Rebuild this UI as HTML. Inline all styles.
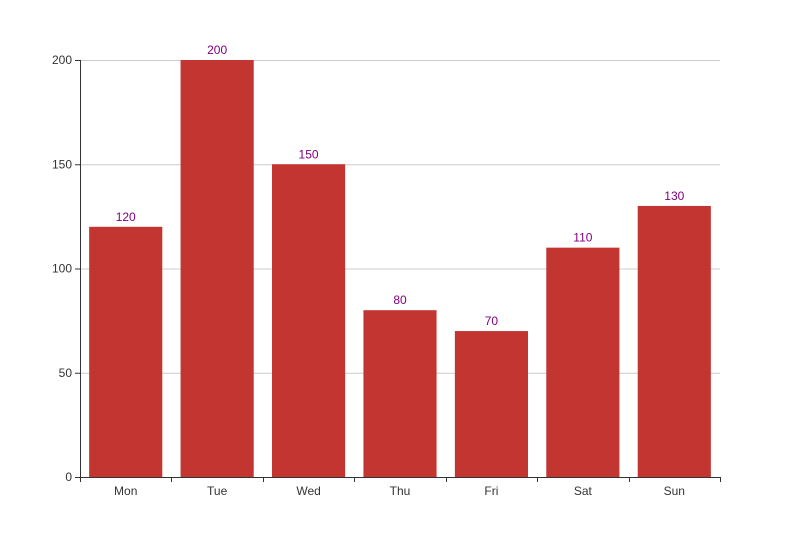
<!DOCTYPE html>
<html><head><meta charset="utf-8"><style>
body{margin:0;background:#fff;}
svg{display:block;font-family:"Liberation Sans",sans-serif;}
</style></head><body>
<svg id="chart" width="800" height="537" viewBox="0 0 800 537"></svg>
<script>
const categories=["Mon","Tue","Wed","Thu","Fri","Sat","Sun"];
const values=[120,200,150,80,70,110,130];
const yTicks=[0,50,100,150,200];
const NS="http://www.w3.org/2000/svg";
const svg=document.getElementById('chart');
const L=80,R=720,T=60,B=477,yMax=200;
const band=(R-L)/categories.length;
const x=i=>L+band*i;
const y=v=>B-(B-T)*v/yMax;
function mk(tag,attrs,parent){const e=document.createElementNS(NS,tag);for(const k in attrs)e.setAttribute(k,attrs[k]);(parent||svg).appendChild(e);return e;}
yTicks.forEach(t=>{
  if(t>0){const g=mk('line',{x1:L,x2:R,y1:y(t)+.5,y2:y(t)+.5,stroke:'#ccc'});
  
  }
  const tk=mk('line',{x1:L-5,x2:L,y1:y(t)+.5,y2:y(t)+.5,stroke:'#333'});
  
  
  const tx=mk('text',{x:L-8,y:y(t)+4,'text-anchor':'end','font-size':12,fill:'#333'});
  tx.textContent=t;
  
  
});
const bw=band*0.8;
categories.forEach((c,i)=>{
  const cx=x(i)+band/2;
  const r=mk('rect',{x:cx-bw/2,y:y(values[i]),width:bw,height:B-y(values[i]),fill:'#c23531'});
  
  
  const lb=mk('text',{x:cx,y:y(values[i])-6,'text-anchor':'middle','font-size':12,fill:'#800080'});
  lb.textContent=values[i];
  
  
  const xl=mk('text',{x:cx,y:B+18,'text-anchor':'middle','font-size':12,fill:'#333'});
  xl.textContent=c;
  
  
});
for(let i=0;i<=categories.length;i++){
  const tk=mk('line',{x1:Math.round(x(i))+.5,x2:Math.round(x(i))+.5,y1:B,y2:B+5,stroke:'#333'});
  
  
}
const ya=mk('line',{x1:L+.5,x2:L+.5,y1:T,y2:B,stroke:'#333'});


const xa=mk('line',{x1:L,x2:R,y1:B+.5,y2:B+.5,stroke:'#333'});


</script>
</body></html>
